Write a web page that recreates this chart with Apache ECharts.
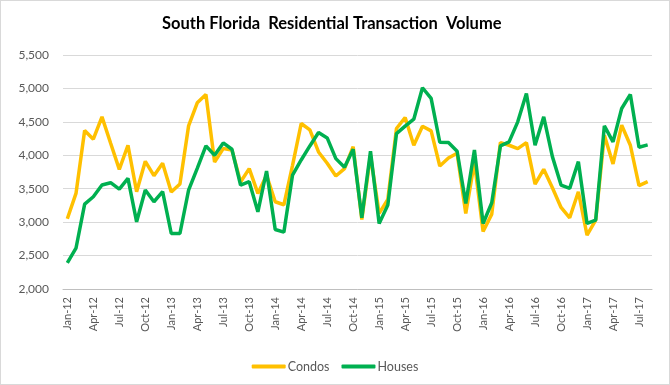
<!DOCTYPE html>
<html><head><meta charset="utf-8">
<script src="https://cdn.jsdelivr.net/npm/echarts@6/dist/echarts.min.js"></script>
<style>html,body{margin:0;padding:0;background:#fff}#c{width:668px;height:383px;border:1px solid #d9d9d9}</style>
</head><body><div id="c"></div>
<script>
const months = [];
const monNames = ['Jan','Feb','Mar','Apr','May','Jun','Jul','Aug','Sep','Oct','Nov','Dec'];
for (let y = 12; y <= 17; y++) for (let m = 0; m < 12; m++) { if (y === 17 && m > 7) break; months.push(monNames[m] + '-' + y); }
const condos = [3050,3430,4370,4240,4575,4180,3790,4150,3455,3910,3695,3880,
  3450,3570,4440,4785,4910,3900,4100,4080,3600,3800,3430,3700,
  3305,3260,3850,4475,4380,4050,3880,3690,3800,4130,3040,4000,
  3130,3340,4400,4565,4150,4435,4365,3840,3960,4030,3130,3900,
  2860,3120,4190,4150,4100,4190,3570,3790,3515,3220,3065,3455,
  2805,3030,4300,3870,4450,4150,3545,3605];
const houses = [2390,2610,3270,3380,3555,3590,3495,3655,3005,3480,3305,3455,
  2830,2830,3480,3805,4140,4000,4185,4090,3555,3605,3155,3765,
  2890,2850,3705,3930,4140,4340,4260,3950,3820,4090,3065,4060,
  2980,3255,4325,4435,4540,5010,4850,4195,4190,4060,3280,4080,
  2980,3290,4140,4200,4500,4925,4150,4575,3980,3555,3505,3905,
  2980,3030,4440,4200,4700,4910,4120,4155];
const chart = echarts.init(document.getElementById('c'));
const gray = '#595959';
chart.setOption({
  animation: false,
  title: { text: 'South Florida  Residential Transaction  Volume', left: 156, top: 9,
    textStyle: { fontFamily: 'Lato', fontWeight: 'bold', fontSize: 16.5, color: '#000' } },
  grid: { left: 62, right: 17, top: 54, bottom: 95 },
  legend: { top: 354, left: 'center', itemWidth: 34, itemHeight: 4, itemGap: 12,
    icon: 'roundRect',
    textStyle: { fontFamily: 'Lato', fontSize: 12.5, color: gray, padding: [0, 0, 0, -3] },
    data: ['Condos', 'Houses'] },
  xAxis: { type: 'category', data: months, boundaryGap: true,
    axisLine: { lineStyle: { color: '#bfbfbf' } },
    axisTick: { interval: 2, length: 5, lineStyle: { color: '#bfbfbf' } },
    axisLabel: { interval: 2, rotate: 90, color: gray, fontFamily: 'Lato', fontSize: 11, margin: 8 } },
  yAxis: { type: 'value', min: 2000, max: 5500, interval: 500,
    axisLine: { show: false }, axisTick: { show: false },
    splitLine: { lineStyle: { color: '#d9d9d9', width: 1 } },
    axisLabel: { color: gray, fontFamily: 'Lato', fontSize: 12, margin: 14,
      formatter: v => v.toLocaleString('en-US') } },
  series: [
    { name: 'Condos', type: 'line', data: condos, showSymbol: false, symbol: 'none',
      lineStyle: { color: '#FFC000', width: 3.5 }, itemStyle: { color: '#FFC000' } },
    { name: 'Houses', type: 'line', data: houses, showSymbol: false, symbol: 'none',
      lineStyle: { color: '#00B050', width: 3.5 }, itemStyle: { color: '#00B050' } }
  ]
});
</script></body></html>
